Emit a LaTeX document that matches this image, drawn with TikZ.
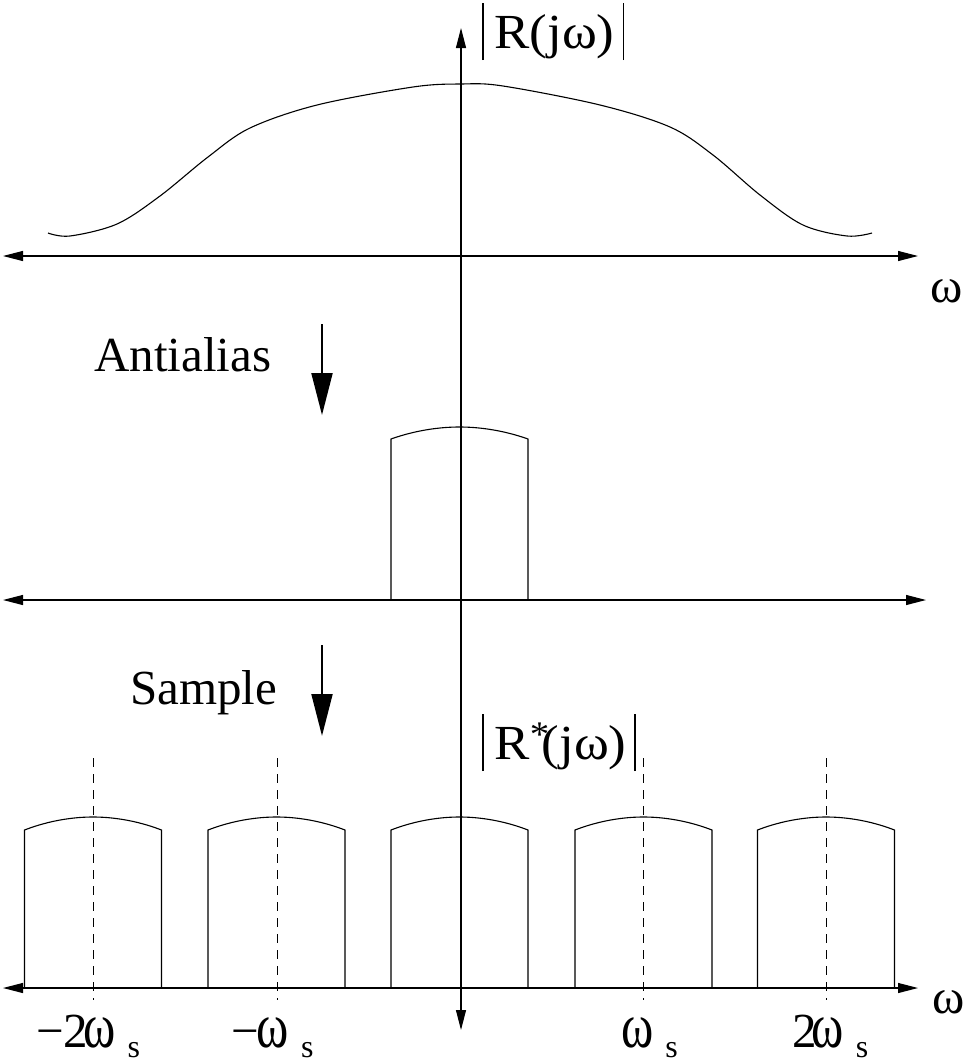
\documentclass[tikz,border=0pt]{standalone}
\usepackage{fontspec}
\usepackage{graphicx}
\setmainfont{Liberation Serif}
\usetikzlibrary{arrows.meta}
\newcommand{\bom}{\scalebox{1}[1.3]{ω}}
\newcommand{\subs}{\kern12pt\raisebox{-10pt}{\fontsize{32}{32}\selectfont s}}
\newcommand{\absbar}{\vrule width 1.3pt height 45pt depth 12pt}
\begin{document}
\begin{tikzpicture}[x=1pt,y=-1pt,
  axis/.style={line width=1.1pt, {Triangle[length=20pt,width=10pt]}-{Triangle[length=20pt,width=10pt]}},
  curve/.style={line width=1.1pt},
  downarrow/.style={line width=2pt, -{Triangle[length=42pt,width=21pt]}},
  guide/.style={line width=1pt, dash pattern=on 9pt off 7pt},
  lbl/.style={inner sep=0pt, anchor=base west, font=\fontsize{49}{58}\selectfont}]
\useasboundingbox (0,0) rectangle (966,1061);

% axes end points
\coordinate (vtop) at (461,28);
\coordinate (vbot) at (461,1030);
\coordinate (h1l) at (3,256);   \coordinate (h1r) at (918,256);
\coordinate (h2l) at (3,600);   \coordinate (h2r) at (926,600);
\coordinate (h3l) at (3,988);   \coordinate (h3r) at (918,988);

\draw[axis] (vbot) -- (vtop);
\draw[axis] (h1l) -- (h1r);
\draw[axis] (h2l) -- (h2r);
\draw[axis] (h3l) -- (h3r);

% top spectrum
\draw[curve] plot[smooth, tension=0.55] coordinates {
 (48,233) (70,236) (117,224) (160,196) (208,157) (250,128) (317,105)
 (413,87) (461,84) (503,86) (600,105) (670,127) (713,155) (760,195)
 (803,225) (847,236) (872,233)};

% antialiased spectrum
\draw[curve] (391,600) -- (391,439) parabola bend (459.5,427) (528,439) -- (528,600);

% sampled spectrum
\foreach \c in {93,276.5,459.5,643.5,826}{
  \draw[curve] (\c-68.5,988) -- (\c-68.5,830) parabola bend (\c,817) (\c+68.5,830) -- (\c+68.5,988);
}

% dashed guides
\foreach \c/\n in {93/a,277/b,643/c,826/d}{
  \coordinate (g\n t) at (\c,758);
  \coordinate (g\n b) at (\c,1000);
  \draw[guide] (g\n t) -- (g\n b);
}

% process arrows
\coordinate (a1s) at (322,324); \coordinate (a1e) at (322,415);
\coordinate (a2s) at (322,645); \coordinate (a2e) at (322,736);
\draw[downarrow] (a1s) -- (a1e);
\draw[downarrow] (a2s) -- (a2e);

% labels
\node[lbl] (Rj) at (482,48) {\absbar\kern11pt\scalebox{1.08}[1]{R(jω)}\kern8pt\absbar};
\node[lbl] (Rs) at (482,759) {\absbar\kern11pt\scalebox{1.08}[1]{R\raisebox{13pt}{\fontsize{36}{36}\selectfont *}\kern-7pt(jω)}\kern8pt\absbar};
\node[lbl] (anti) at (94,371) {Antialias};
\node[lbl] (samp) at (130,704) {Sample};
\node[lbl] (w1) at (930,302) {ω};
\node[lbl] (w2) at (932,1013) {ω};
\node[lbl] (m2) at (36,1047) {−2\kern-5pt\bom\subs};
\node[lbl] (m1) at (231,1047) {−\kern-2pt\bom\subs};
\node[lbl] (p1) at (621,1047) {\bom\subs};
\node[lbl] (p2) at (792,1047) {2\kern-5pt\bom\subs};
\end{tikzpicture}
\end{document}
